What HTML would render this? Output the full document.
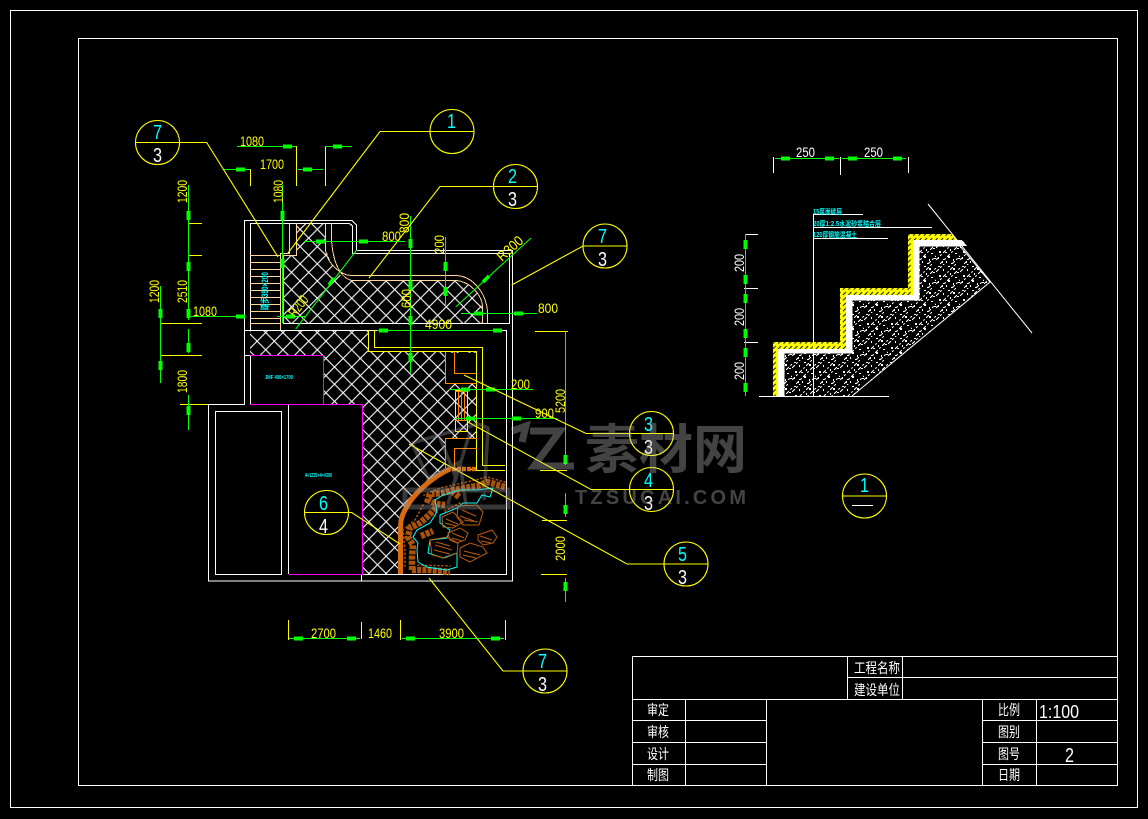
<!DOCTYPE html>
<html><head><meta charset="utf-8"><style>
html,body{margin:0;padding:0;background:#000;width:1148px;height:819px;overflow:hidden}
svg{display:block}
text{font-family:"Liberation Sans","Noto Sans CJK SC",sans-serif}
.y{fill:#ff0;font-size:14px}
.w{fill:#fff;font-size:14px}
.c{fill:#0ff;font-size:20px}
.n{fill:#fff;font-size:20px}
.t{fill:#fff;font-size:14px}
.s{fill:#0ff;font-size:7px;font-weight:bold}
</style></head><body>
<svg width="1148" height="819" viewBox="0 0 1148 819" xmlns="http://www.w3.org/2000/svg" shape-rendering="crispEdges">
<defs>
<pattern id="h" width="17.2" height="17.2" patternUnits="userSpaceOnUse" patternTransform="translate(351.7 281)">
<path d="M0 0L17.2 17.2M17.2 0L0 17.2" stroke="#fff" stroke-width="1.1" shape-rendering="auto"/>
</pattern>
<pattern id="sp" width="24" height="24" patternUnits="userSpaceOnUse">
<path d="M0 8L8 0M0 20L20 0M4 24L24 4M16 24L24 16" stroke="#fff" stroke-width="1" stroke-dasharray="4 2 2 2"/>
<path d="M2 2h2v1h-2zM7 5h1v2h-1zM12 2h2v1h-2zM17 4h2v2h-2zM21 8h2v1h-2zM3 11h2v2h-2zM9 12h2v1h-2zM14 9h1v2h-1zM19 13h2v1h-2zM2 17h1v2h-1zM7 19h2v1h-2zM12 16h2v2h-2zM17 19h1v2h-1zM22 18h2v1h-2zM5 22h2v1h-2zM10 21h1v2h-1zM15 23h2v1h-2z" fill="#fff"/>
</pattern>
<pattern id="yb" width="5.4" height="5.4" patternUnits="userSpaceOnUse">
<rect width="5.4" height="5.4" fill="#ff0"/>
<path d="M0.5 3.5L3.5 0.5" stroke="#000" stroke-width="0.9" shape-rendering="auto"/>
</pattern>
</defs>
<rect width="1148" height="819" fill="#000"/>

<!-- frames -->
<g fill="none" stroke="#fff" stroke-width="1">
<rect x="10.5" y="10.5" width="1127" height="797"/>
<rect x="78.5" y="38.5" width="1039" height="747"/>
<path d="M632.5 656.5H1117.5M632.5 656.5V785M632.5 699.5H1117.5M847.5 656.5V699.5M902.5 656.5V699.5M847.5 677.5H1117.5M632.5 720.5H766M632.5 742.5H766M632.5 764.5H766M685.5 699.5V785M766.5 699.5V785M982.5 699.5V785M1036.5 699.5V785M982.5 720.5H1117M982.5 742.5H1117M982.5 764.5H1117"/>
</g>
<g class="t">
<text class="t" x="854" y="673" textLength="46" lengthAdjust="spacingAndGlyphs" font-size="13">工程名称</text>
<text class="t" x="854" y="695" textLength="46" lengthAdjust="spacingAndGlyphs">建设单位</text>
<text class="t" x="647" y="715" textLength="22" lengthAdjust="spacingAndGlyphs">审定</text>
<text class="t" x="647" y="737" textLength="22" lengthAdjust="spacingAndGlyphs">审核</text>
<text class="t" x="647" y="759" textLength="22" lengthAdjust="spacingAndGlyphs">设计</text>
<text class="t" x="647" y="780" textLength="22" lengthAdjust="spacingAndGlyphs">制图</text>
<text class="t" x="998" y="715" textLength="22" lengthAdjust="spacingAndGlyphs">比例</text>
<text class="t" x="998" y="737" textLength="22" lengthAdjust="spacingAndGlyphs">图别</text>
<text class="t" x="998" y="759" textLength="22" lengthAdjust="spacingAndGlyphs">图号</text>
<text class="t" x="998" y="780" textLength="22" lengthAdjust="spacingAndGlyphs">日期</text>
<text x="1039" y="718" fill="#fff" font-size="18" textLength="40" lengthAdjust="spacingAndGlyphs">1:100</text>
<text x="1065" y="762" fill="#fff" font-size="20" textLength="9" lengthAdjust="spacingAndGlyphs">2</text>
</g>

<!-- hatching -->
<path d="M283 255H296V223H325V240C327 262 338 278 352 281H455C472 281 482 295 482 310V323H283Z" fill="url(#h)"/>
<path d="M250 330H368V351H477V470H450C425 478 400 505 400 522V574H362V404H323V355H250Z" fill="url(#h)"/>
<rect x="446" y="353" width="30" height="30" fill="#000"/>
<rect x="446" y="439" width="31" height="29" fill="#000"/>

<!-- walls -->
<g fill="none" stroke="#fff" stroke-width="1.2">
<path d="M244.5 404V220.5H352L356.5 225V250.5H512.5V581H208.5V404.5H245"/>
<path d="M250.5 330V223.5H349.5L352.5 226V253.5H509.5V323.5H283"/>
<path d="M244.5 330.5H506.5V574.5H362"/>
<path d="M244.5 355.5H250M250.5 355V404M288.5 404V574M361.5 574V581"/>
<rect x="215.5" y="411.5" width="66" height="163"/>
</g>
<g fill="none" stroke="#f0f" stroke-width="1.2">
<path d="M250 355.5H323.5V404.5M250 404.5H362.5V574.5H289"/>
</g>

<!-- tan lines -->
<g fill="none" stroke="#ffd898" stroke-width="1">
<path d="M289.5 223V253.5H280.5V330"/>
<path d="M296.5 223V255.5H283.5V323"/>
<path d="M325.5 223V250C327 263 340 275 351 275.5H455C474 275.5 487 295 487.5 313V323"/>
<path d="M331.5 223V240C333 262 340 278 352 280.5H455C470 281 482 295 482.5 307V323"/>
<path d="M250 255.5H280M250 262.5H280M250 269.5H280M250 276.5H280M250 283.5H280M250 290.5H280M250 297.5H280M250 304.5H280M250 311.5H280M250 318.5H280M250 323.5H280"/>
</g>
<text x="0" y="0" transform="translate(268 310) rotate(-90)" fill="#0ff" font-size="9" font-weight="bold" textLength="38" lengthAdjust="spacingAndGlyphs">踏步350×200</text>
<text x="265" y="379" fill="#0ff" font-size="5" font-weight="bold" textLength="28" lengthAdjust="spacingAndGlyphs">JMF 400×1700</text>
<text x="305" y="477" fill="#0ff" font-size="5" font-weight="bold" textLength="27" lengthAdjust="spacingAndGlyphs">4×1225×4×4300</text>

<!-- yellow path -->
<g fill="none" stroke="#ff0" stroke-width="1.2">
<path d="M374.5 330V347.5H482.5V465.5H505"/>
<path d="M368.5 330V351.5H476.5V470.5H505"/>
<rect x="455.5" y="390.5" width="12" height="41"/>
</g>
<!-- orange structures -->
<g fill="none" stroke="#f80" stroke-width="1">
<path d="M445.5 352V383.5H476"/>
<path d="M454.5 352V373.5H476"/>
<path d="M445.5 468V438.5H477"/>
<path d="M454.5 468V448.5H477"/>
<path d="M458.5 392V420M461.5 392V420M464.5 392V420M455 391.5H467M455 420.5H467"/>
</g>
<g shape-rendering="auto">
<path d="M476 469H450" fill="none" stroke="#d86a10" stroke-width="4.5" stroke-dasharray="4 1"/>
<path d="M450 469C432 477 412 495 405 510C401 517 400.5 522 400.5 530V574" fill="none" stroke="#d86a10" stroke-width="5"/>
<!-- rubble -->
<g fill="none" stroke="#a9520c" stroke-linecap="butt" stroke-width="6.5" stroke-dasharray="4 1.2">
<path d="M505 487L495 484L487 482L478 486L470 487L453 490L443 493L432 494"/>
<path d="M452 491L459 497"/>
<path d="M430 494L428 500L437 504L445 505"/>
<path d="M436 508L427 517L420 523L410 528L408 537L413 545L412 557L412 570"/>
<path d="M421 536L433 531"/>
<path d="M412 570L430 570L450 572"/>
</g>
<g fill="none" stroke="#a9520c" stroke-linecap="round" stroke-width="1.6" stroke-dasharray="1 3">
<path d="M505 482L487 477L467 482L440 488L424 495M423 505L415 520L403 530L405 550L405 566M460 503L445 511M418 565L450 566"/>
</g>
<!-- cyan water outline -->
<path d="M493 488L490 497L482 495L477 503L463 503L457 508L440 515L440 523L450 530L447 538L430 540L428 553L443 558L457 553L457 567L447 570L433 568L427 567L418 562L417 550L418 543L413 537L417 530L430 523L437 512L435 500L443 495L460 490L477 490Z" fill="none" stroke="#0ff" stroke-width="1"/>
<!-- rocks -->
<g fill="none" stroke="#b85c10" stroke-width="1">
<path d="M458 506L477 505L483 512L479 525L463 525L457 517Z"/>
<path d="M442 517L453 512L463 522L453 528L443 527Z"/>
<path d="M448 533L460 528L468 533L465 540L457 543L450 540Z"/>
<path d="M430 540L447 537L458 543L457 553L445 558L432 555Z"/>
<path d="M460 548L470 543L483 547L487 553L470 562L460 557Z"/>
<path d="M478 535L492 530L497 537L493 543L483 545L478 540Z"/>
<path d="M462 510L476 516M460 516L474 521M464 520L478 522M446 519L458 524M445 523L456 526M452 533L464 538M452 538L462 541M435 545L452 550M434 550L450 554M436 542L450 546M464 551L480 555M463 555L476 558M480 536L492 540M481 541L491 543"/>
</g>
</g>

<!-- section drawing -->
<path d="M784 396V353H852V300H919V246H960L990 282L852 396Z" fill="url(#sp)"/>
<path d="M784 396V353H852V300H919V246H960L990 282L852 396" fill="none" stroke="#fff" stroke-width="1" shape-rendering="auto"/>
<path d="M778 396V349H846V295H913V240H962L967 246H919V300H852V353H784V396Z" fill="#fff"/>
<path d="M773 396V342H840V288H908V234H952L957 240H913V295H846V349H778V396Z" fill="url(#yb)"/>
<g fill="none" stroke="#fff" stroke-width="1">
<path d="M759 396.5H889M813.5 214V396M813 214.5H863M813 227.5H932M813 238.5H888"/>
<path d="M928 204L1032 333" shape-rendering="auto"/>
<path d="M773.5 157V173M840.5 157V175M908.5 157V173M745 234.5H758M744 288.5H758M744 342.5H758"/>
</g>
<text class="s" x="813" y="214" textLength="29" lengthAdjust="spacingAndGlyphs">15厚面砖层</text>
<text class="s" x="813" y="226" textLength="68" lengthAdjust="spacingAndGlyphs">20厚1:2.5水泥砂浆结合层</text>
<text class="s" x="813" y="237" textLength="44" lengthAdjust="spacingAndGlyphs">120厚钢筋混凝土</text>
<text class="w" x="796" y="157" textLength="19" lengthAdjust="spacingAndGlyphs">250</text>
<text class="w" x="864" y="157" textLength="19" lengthAdjust="spacingAndGlyphs">250</text>
<text class="w" transform="translate(744 272) rotate(-90)" textLength="18" lengthAdjust="spacingAndGlyphs">200</text>
<text class="w" transform="translate(744 326) rotate(-90)" textLength="18" lengthAdjust="spacingAndGlyphs">200</text>
<text class="w" transform="translate(744 380) rotate(-90)" textLength="18" lengthAdjust="spacingAndGlyphs">200</text>

<!-- yellow ticks and extension lines -->
<g fill="none" stroke="#ff0" stroke-width="1">
<path d="M296.5 146V186M325.5 146V186M250.5 169V186"/>
<path d="M188 223.5H202M188 255.5H202M160 323.5H202M160 355.5H202M180 404.5H208"/>
<path d="M535 331.5H568M540 470.5H567M542 520.5H567M541 574.5H567"/>
<path d="M288.5 620V640M361.5 622V639M400.5 620V640M505.5 620V640"/>
</g>

<!-- green dimension lines -->
<g fill="none" stroke="#0f0" stroke-width="1.1">
<path d="M237 146.5H296M325 146.5H352M223 169.5H250M298 169.5H323"/>
<path d="M282.5 185V323M188.5 185V320M160.5 286V383M188.5 329V353M188.5 395V430"/>
<path d="M191 316.5H244M277 316.5H305M304 241.5H405M410.5 216V373M445.5 237V307"/>
<path d="M377 330.5H502M461 313.5H537M449 389.5H533M455 418.5H557"/>
<path d="M565.5 331V465M565.5 493V517M565.5 578V602"/>
<path d="M289 638.5H360M402 638.5H504"/>
<path d="M775 158.5H839M842 158.5H906M745.5 234V396"/>
<path d="M295.7 329L356.7 250M455.7 307L531 238" shape-rendering="auto"/>
</g>
<!-- arrows -->
<g fill="none" stroke="#0f0" stroke-width="3.6">
<path d="M283 146.5h9M333 146.5h9M236 169.5h9M303 169.5h9M236 316.5h9M286 316.5h9M316 241.5h9M359 241.5h9M379 330.5h9M493 330.5h9M474 313.5h9M514 313.5h9M461 389.5h9M486 389.5h9M466 418.5h9M512 418.5h9M294 638.5h9M347 638.5h9M406 638.5h9M491 638.5h9M781 158.5h9M825 158.5h9M848 158.5h9M893 158.5h9"/>
<path d="M282.5 211v9M282.5 259v9M188.5 211v9M188.5 262v9M188.5 309v9M160.5 309v9M160.5 361v9M188.5 343v9M188.5 406v9M410.5 239v9M410.5 281v9M410.5 316v9M410.5 353v9M445.5 262v9M445.5 287v9M565.5 455v9M565.5 505v9M565.5 582v9M745.5 240v9M745.5 275v9M745.5 294v9M745.5 329v9M745.5 348v9M745.5 383v9"/>
<path d="M329 285L334 278M483 282L489 276" shape-rendering="auto"/>
</g>

<!-- dimension text -->
<g>
<text class="y" x="240" y="146" textLength="24" lengthAdjust="spacingAndGlyphs">1080</text>
<text class="y" x="260" y="169" textLength="24" lengthAdjust="spacingAndGlyphs">1700</text>
<text class="y" transform="translate(283 203) rotate(-90)" textLength="23" lengthAdjust="spacingAndGlyphs">1080</text>
<text class="y" transform="translate(187 203) rotate(-90)" textLength="23" lengthAdjust="spacingAndGlyphs">1200</text>
<text class="y" transform="translate(187 303) rotate(-90)" textLength="23" lengthAdjust="spacingAndGlyphs">2510</text>
<text class="y" transform="translate(159 303) rotate(-90)" textLength="23" lengthAdjust="spacingAndGlyphs">1200</text>
<text class="y" transform="translate(187 393) rotate(-90)" textLength="23" lengthAdjust="spacingAndGlyphs">1800</text>
<text class="y" x="193" y="316" textLength="24" lengthAdjust="spacingAndGlyphs">1080</text>
<text class="y" x="382" y="241" textLength="19" lengthAdjust="spacingAndGlyphs">800</text>
<text class="y" transform="translate(409 233) rotate(-90)" textLength="20" lengthAdjust="spacingAndGlyphs">800</text>
<text class="y" transform="translate(444 254) rotate(-90)" textLength="19" lengthAdjust="spacingAndGlyphs">200</text>
<text class="y" transform="translate(411 308) rotate(-90)" textLength="19" lengthAdjust="spacingAndGlyphs">600</text>
<text class="y" x="425" y="329" textLength="27" lengthAdjust="spacingAndGlyphs">4900</text>
<text class="y" x="538" y="313" textLength="20" lengthAdjust="spacingAndGlyphs">800</text>
<text class="y" x="511" y="389" textLength="19" lengthAdjust="spacingAndGlyphs">200</text>
<text class="y" x="535" y="418" textLength="19" lengthAdjust="spacingAndGlyphs">900</text>
<text class="y" transform="translate(565 413) rotate(-90)" textLength="24" lengthAdjust="spacingAndGlyphs">5200</text>
<text class="y" transform="translate(565 561) rotate(-90)" textLength="25" lengthAdjust="spacingAndGlyphs">2000</text>
<text class="y" x="311" y="638" textLength="25" lengthAdjust="spacingAndGlyphs">2700</text>
<text class="y" x="368" y="638" textLength="24" lengthAdjust="spacingAndGlyphs">1460</text>
<text class="y" x="439" y="638" textLength="25" lengthAdjust="spacingAndGlyphs">3900</text>
<text class="y" transform="translate(295 318) rotate(-52)" textLength="23" lengthAdjust="spacingAndGlyphs">R200</text>
<text class="y" transform="translate(502 262) rotate(-42)" textLength="30" lengthAdjust="spacingAndGlyphs">R300</text>
</g>

<!-- callouts -->
<g fill="none" stroke="#ff0" stroke-width="1.1" shape-rendering="auto">
<circle cx="157.5" cy="142.5" r="22"/><path d="M135.5 142.5H206.7L278 257"/>
<circle cx="452" cy="131.5" r="22"/><path d="M474 131.5H380L288 253"/>
<circle cx="515.5" cy="186.5" r="22"/><path d="M537.5 186.5H440L369 278"/>
<circle cx="605" cy="246" r="22"/><path d="M627 246H583L511.7 285"/>
<circle cx="651.5" cy="433.5" r="22"/><path d="M673.5 433.5H586L464 375"/>
<circle cx="651.5" cy="489.5" r="22"/><path d="M673.5 489.5H591L468 422"/>
<circle cx="686" cy="564" r="22"/><path d="M708 564H627L409 444"/>
<circle cx="326.5" cy="512.5" r="22"/><path d="M304.5 512.5H351.7L400 544"/>
<circle cx="545" cy="671" r="22"/><path d="M567 671H503L429 578"/>
<circle cx="864.5" cy="496" r="22"/><path d="M842.5 496H886.5"/>
</g>
<path d="M852 505.5H873" stroke="#fff" stroke-width="1"/>
<g>
<text class="c" x="153" y="139" textLength="9" lengthAdjust="spacingAndGlyphs">7</text><text class="n" x="153" y="162" textLength="9" lengthAdjust="spacingAndGlyphs">3</text>
<text class="c" x="447" y="128" textLength="9" lengthAdjust="spacingAndGlyphs">1</text>
<text class="c" x="508" y="183" textLength="9" lengthAdjust="spacingAndGlyphs">2</text><text class="n" x="508" y="206" textLength="9" lengthAdjust="spacingAndGlyphs">3</text>
<text class="c" x="598" y="243" textLength="9" lengthAdjust="spacingAndGlyphs">7</text><text class="n" x="598" y="266" textLength="9" lengthAdjust="spacingAndGlyphs">3</text>
<text class="c" x="644" y="431" textLength="9" lengthAdjust="spacingAndGlyphs">3</text><text class="n" x="644" y="454" textLength="9" lengthAdjust="spacingAndGlyphs">3</text>
<text class="c" x="644" y="487" textLength="9" lengthAdjust="spacingAndGlyphs">4</text><text class="n" x="644" y="510" textLength="9" lengthAdjust="spacingAndGlyphs">3</text>
<text class="c" x="678" y="561" textLength="9" lengthAdjust="spacingAndGlyphs">5</text><text class="n" x="678" y="584" textLength="9" lengthAdjust="spacingAndGlyphs">3</text>
<text class="c" x="319" y="510" textLength="9" lengthAdjust="spacingAndGlyphs">6</text><text class="n" x="319" y="533" textLength="9" lengthAdjust="spacingAndGlyphs">4</text>
<text class="c" x="538" y="668" textLength="9" lengthAdjust="spacingAndGlyphs">7</text><text class="n" x="538" y="691" textLength="9" lengthAdjust="spacingAndGlyphs">3</text>
<text class="c" x="860" y="492" textLength="9" lengthAdjust="spacingAndGlyphs">1</text>
</g>

<!-- watermark -->
<g opacity="0.36" shape-rendering="auto">
<path d="M412 443L478 424L488 428L484 500M412 443L428 478L460 462M440 438L456 478L470 432M448 504L460 462L466 505" fill="none" stroke="#9a9a9a" stroke-width="3.5"/>
<path d="M405 507H508V490M405 507V490H510" fill="none" stroke="#9a9a9a" stroke-width="5"/>
<path d="M512 431L526 426L522 442M530 431H560L534 466H574" fill="none" stroke="#bbb" stroke-width="7"/>
<text x="585" y="468" fill="#bbb" font-size="53" font-weight="bold" textLength="162" lengthAdjust="spacingAndGlyphs" style="font-family:'Noto Sans CJK SC',sans-serif">素材网</text>
<text x="575" y="504" fill="#bbb" font-size="20" font-weight="bold" textLength="171" lengthAdjust="spacing">TZSUCAI.COM</text>
</g>
</svg>
</body></html>
